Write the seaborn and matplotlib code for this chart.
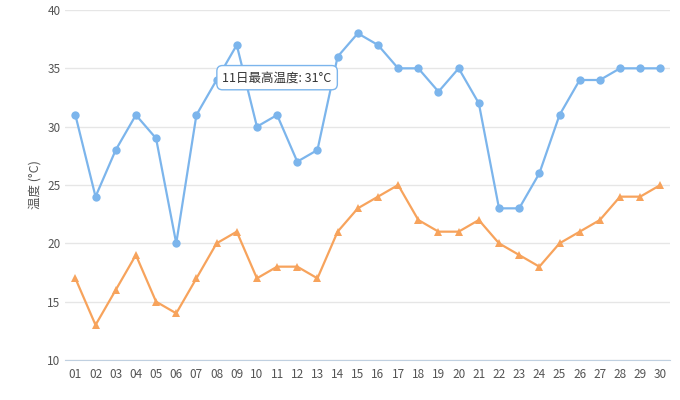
import matplotlib
matplotlib.use("Agg")
import matplotlib.pyplot as plt
import seaborn as sns
import pandas as pd

days = [f"{i:02d}" for i in range(1, 31)]
high = [31,24,28,31,29,20,31,34,37,30,31,27,28,36,38,37,35,35,33,35,32,23,23,26,31,34,34,35,35,35]
low = [17,13,16,19,15,14,17,20,21,17,18,18,17,21,23,24,25,22,21,21,22,20,19,18,20,21,22,24,24,25]

sns.set_style("white")
plt.rcParams['font.family'] = ['Noto Sans CJK SC', 'DejaVu Sans']

fig = plt.figure(figsize=(6.8, 4.0), dpi=100)
ax = fig.add_axes([0.096, 0.1, 0.89, 0.875])
df = pd.DataFrame({"day": days, "high": high, "low": low})
x = list(range(len(days)))
sns.lineplot(x=x, y=df["high"], ax=ax, color="#7cb5ec", marker="o", markersize=6, markeredgewidth=0, linewidth=1.6)
sns.lineplot(x=x, y=df["low"], ax=ax, color="#f7a35c", marker="^", markersize=6, markeredgewidth=0, linewidth=1.6)
ax.set_xlim(-0.5, 29.5)
ax.set_ylim(10, 40)
ax.set_yticks(range(10, 41, 5))
ax.set_xticks(x)
ax.set_xticklabels(days)
ax.set_xticks([i - 0.5 for i in range(31)], minor=True)
ax.tick_params(axis='x', which='major', length=0, labelsize=8.5, colors="#555555", pad=6)
ax.tick_params(axis='x', which='minor', length=5, color="#c0d0e0")
ax.tick_params(axis='y', length=0, labelsize=8.5, colors="#555555")
ax.grid(axis='y', color="#e6e6e6", linewidth=1)
for s in ["top", "right", "left"]:
    ax.spines[s].set_visible(False)
ax.spines["bottom"].set_color("#c0d0e0")
ax.set_xlabel("")
ax.set_ylabel("温度 (°C)", fontsize=9, color="#555555")
ax.annotate("11日最高温度: 31°C", xy=(10, 31), xytext=(10, 34.2), ha="center", va="center",
            fontsize=9, color="#333333",
            bbox=dict(boxstyle="round,pad=0.45", fc="white", ec="#7cb5ec", lw=1),
            arrowprops=dict(arrowstyle="-", color="#7cb5ec", lw=0))
fig.savefig("out.png", dpi=100)
